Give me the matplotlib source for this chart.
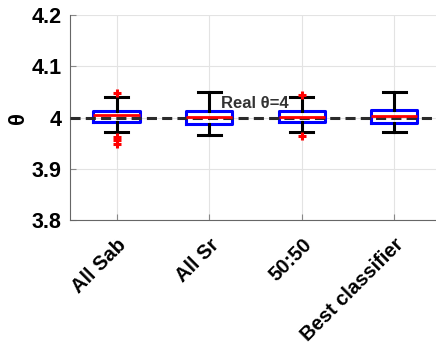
## box plot of theta estimates vs the real value

import matplotlib.pyplot as plt

plt.rcParams['font.family'] = ['Liberation Sans', 'DejaVu Sans']

## DATA
labels = ['All Sab', 'All Sr', '50:50', 'Best classifier']
medians = [4.005, 4.001, 4.002, 4.004]
q1 = [3.992, 3.987, 3.992, 3.990]
q3 = [4.013, 4.012, 4.012, 4.015]
whis_lo = [3.971, 3.965, 3.971, 3.971]
whis_hi = [4.040, 4.050, 4.041, 4.050]
fliers = [[4.047, 3.963, 3.956, 3.949], [], [4.044, 3.964], []]
real_theta = 4.0

stats = []
for i in range(len(labels)):
    stats.append(dict(med=medians[i], q1=q1[i], q3=q3[i],
                      whislo=whis_lo[i], whishi=whis_hi[i],
                      fliers=fliers[i], label=labels[i]))

fig = plt.figure(figsize=(4.36, 3.52), dpi=100)
ax = fig.add_axes([0.161, 0.375, 0.839, 0.582])

ax.grid(True, color='#e3e3e3', linewidth=0.8)
ax.set_axisbelow(True)

ax.bxp(stats, positions=range(1, len(labels) + 1), widths=0.5,
       boxprops=dict(color='blue', linewidth=2.2),
       medianprops=dict(color='red', linewidth=2, zorder=6),
       whiskerprops=dict(color='black', linewidth=2.2, linestyle='-'),
       capprops=dict(color='black', linewidth=2.2),
       capwidths=0.25,
       flierprops=dict(marker='+', markeredgecolor='red', markersize=6, markeredgewidth=2.2),
       zorder=3)

# dashed reference line sits over the boxes, under the medians
ax.axhline(real_theta, color='#2b2b2b', linestyle=(0, (3.3, 1.7)), linewidth=2.2, zorder=5)

ax.text(2.495, 4.027, 'Real θ=4', fontsize=12, fontweight='bold', color='#333333',
        ha='center', va='center', zorder=7)

ax.set_xlim(0.5, 4.45)
ax.set_ylim(3.8, 4.2)
ax.set_yticks([3.8, 3.9, 4.0, 4.1, 4.2])
ax.set_yticklabels(['3.8', '3.9', '4', '4.1', '4.2'], fontsize=15.5, fontweight='bold')
ax.set_xticks(range(1, len(labels) + 1))
ax.set_xticklabels(labels, rotation=45, ha='right', va='top', rotation_mode='anchor',
                   fontsize=14.5, fontweight='bold')
ax.set_ylabel('θ', fontsize=16, fontweight='bold', labelpad=2)

ax.tick_params(direction='in', length=4, color='#888888')
ax.tick_params(axis='x', pad=11)
ax.tick_params(axis='y', pad=6)
ax.spines['top'].set_visible(False)
ax.spines['right'].set_visible(False)
ax.spines['left'].set_color('#666666')
ax.spines['bottom'].set_color('#666666')

fig.savefig('out.png', dpi=100)
